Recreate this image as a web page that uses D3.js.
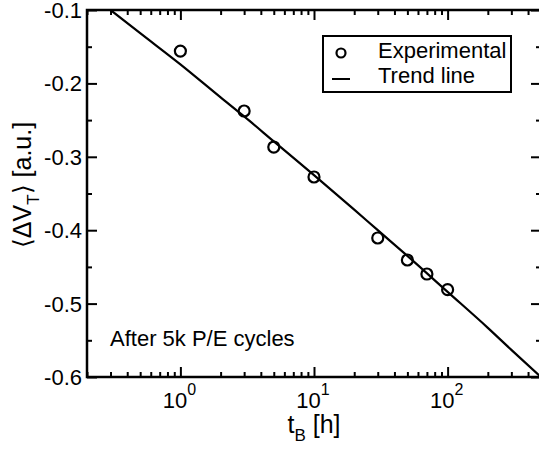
<!DOCTYPE html>
<html>
<head>
<meta charset="utf-8" />
<script src="https://d3js.org/d3.v7.min.js"></script>
<style>
  body { margin: 0; background: #fff; }
  svg { font-family: "Liberation Sans", Arial, sans-serif; }
  .axis path { display: none; }
  .axis line { stroke: #000; stroke-width: 2px; }
  .ylab { font-size: 22px; }
</style>
</head>
<body>
<svg width="539" height="449"></svg>
<script>
// measured points
var expT = [1, 3, 5, 10, 30, 50, 70, 100];
var expV = [-0.156, -0.2376, -0.2867, -0.3275, -0.4106, -0.4406, -0.4597, -0.481];

// trend line
var trendT = [0.3, 0.5, 1, 2, 3, 5, 10, 20, 30, 50, 100, 200, 300, 500];
var trendV = [-0.100, -0.1315, -0.174, -0.219, -0.245, -0.279, -0.325, -0.372, -0.400, -0.435, -0.484, -0.533, -0.563, -0.600];

var xMajor = [1, 10, 100];
var xMinor = [0.2, 0.3, 0.4, 0.5, 0.6, 0.7, 0.8, 0.9,
              2, 3, 4, 5, 6, 7, 8, 9,
              20, 30, 40, 50, 60, 70, 80, 90,
              200, 300, 400, 500];
var xExp = ["0", "1", "2"];
var yMajor = [-0.6, -0.5, -0.4, -0.3, -0.2, -0.1];
var yMinor = [-0.55, -0.45, -0.35, -0.25, -0.15];

var svg = d3.select("svg"),
    pL = 87, pT = 10, pR = 541, pB = 377;

var x = d3.scaleLog().domain([0.2, 500]).range([pL, pR]),
    y = d3.scaleLinear().domain([-0.6, -0.1]).range([pB, pT]);

svg.append("defs").append("clipPath")
  .attr("id", "clip")
  .append("rect")
  .attr("x", pL).attr("y", pT)
  .attr("width", pR - pL).attr("height", pB - pT);

// ticks on all four sides, pointing inward
function addAxis(axis, vals, size, tx, ty) {
  svg.append("g")
    .attr("class", "axis")
    .attr("transform", "translate(" + tx + "," + ty + ")")
    .call(axis.tickValues(vals).tickSize(size).tickFormat(""));
}
addAxis(d3.axisBottom(x), xMajor, -10, 0, pB);
addAxis(d3.axisBottom(x), xMinor, -5, 0, pB);
addAxis(d3.axisTop(x), xMajor, -10, 0, pT);
addAxis(d3.axisTop(x), xMinor, -5, 0, pT);
addAxis(d3.axisLeft(y), yMajor, -10, pL, 0);
addAxis(d3.axisLeft(y), yMinor, -5, pL, 0);
addAxis(d3.axisRight(y), yMajor, -10, pR, 0);
addAxis(d3.axisRight(y), yMinor, -5, pR, 0);

svg.append("rect")
  .attr("x", pL).attr("y", pT)
  .attr("width", pR - pL).attr("height", pB - pT)
  .attr("fill", "none")
  .attr("stroke", "#000")
  .attr("stroke-width", 2.5);

// y tick labels (plain hyphen as minus)
svg.selectAll(".ylab")
  .data(yMajor)
  .enter().append("text")
  .attr("class", "ylab")
  .attr("x", pL - 5)
  .attr("y", function(d) { return y(d); })
  .attr("dy", "0.36em")
  .attr("text-anchor", "end")
  .text(function(d) { return d.toFixed(1); });

// x tick labels 10^n
var xl = svg.selectAll(".xlab")
  .data(xMajor)
  .enter().append("text")
  .attr("class", "xlab")
  .attr("x", function(d) { return x(d) - 1; })
  .attr("y", 408)
  .attr("text-anchor", "middle")
  .style("font-size", "22px");
xl.append("tspan").text("10");
xl.append("tspan")
  .attr("dy", -13)
  .style("font-size", "16px")
  .text(function(d, i) { return xExp[i]; });

// axis titles
var xt = svg.append("text")
  .attr("x", 314)
  .attr("y", 433)
  .attr("text-anchor", "middle")
  .style("font-size", "25px");
xt.append("tspan").text("t");
xt.append("tspan").attr("dy", 8).style("font-size", "17px").text("B");
xt.append("tspan").attr("dy", -8).text(" [h]");

var yt = svg.append("text")
  .attr("transform", "translate(31,185) rotate(-90)")
  .attr("text-anchor", "middle")
  .style("font-size", "25px");
yt.append("tspan").text("\u27E8\u0394V");
yt.append("tspan").attr("dy", 8).style("font-size", "17px").text("T");
yt.append("tspan").attr("dy", -8).text("\u27E9 [a.u.]");

// trend line
var trend = trendT.map(function(t, i) { return [t, trendV[i]]; });
svg.append("path")
  .datum(trend)
  .attr("clip-path", "url(#clip)")
  .attr("fill", "none")
  .attr("stroke", "#000")
  .attr("stroke-width", 2.2)
  .attr("d", d3.line()
    .curve(d3.curveMonotoneX)
    .x(function(d) { return x(d[0]); })
    .y(function(d) { return y(d[1]); }));

// experimental points
svg.selectAll(".pt")
  .data(expT)
  .enter().append("circle")
  .attr("class", "pt")
  .attr("cx", function(d) { return x(d); })
  .attr("cy", function(d, i) { return y(expV[i]); })
  .attr("r", 5.5)
  .attr("fill", "none")
  .attr("stroke", "#000")
  .attr("stroke-width", 2.2);

// legend
var lg = svg.append("g");
lg.append("rect")
  .attr("x", 323).attr("y", 36)
  .attr("width", 188).attr("height", 56)
  .attr("fill", "#fff")
  .attr("stroke", "#000")
  .attr("stroke-width", 2);
lg.append("circle")
  .attr("cx", 341).attr("cy", 53).attr("r", 4.5)
  .attr("fill", "none").attr("stroke", "#000").attr("stroke-width", 2.2);
lg.append("line")
  .attr("x1", 332).attr("x2", 350).attr("y1", 79).attr("y2", 79)
  .attr("stroke", "#000").attr("stroke-width", 2);
lg.append("text").attr("x", 378).attr("y", 58)
  .style("font-size", "22px").text("Experimental");
lg.append("text").attr("x", 378).attr("y", 83)
  .style("font-size", "22px").text("Trend line");

svg.append("text")
  .attr("x", 110).attr("y", 346)
  .style("font-size", "22px")
  .text("After 5k P/E cycles");
</script>
</body>
</html>
